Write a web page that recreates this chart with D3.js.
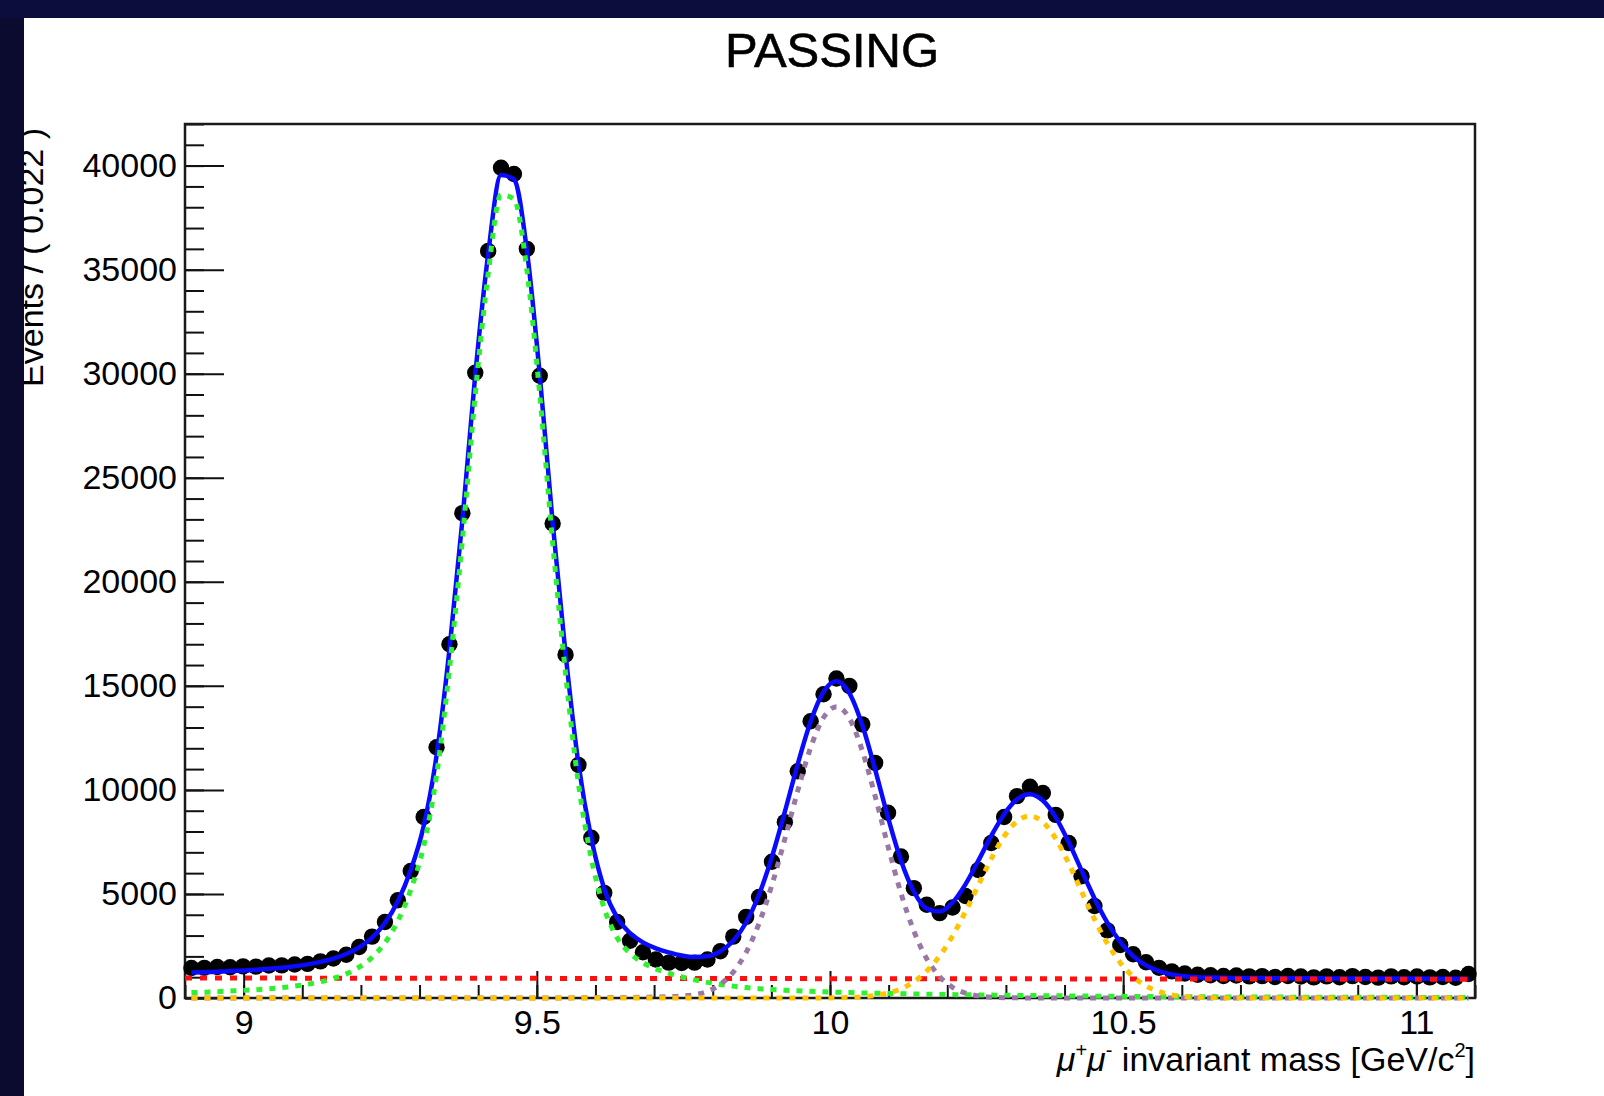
<!DOCTYPE html>
<html>
<head>
<meta charset="utf-8">
<script src="https://cdn.jsdelivr.net/npm/d3@7"></script>
<style>
  html, body { margin: 0; padding: 0; background: #0b0c36; }
  #panel { width: 1604px; height: 1096px; }
  text { white-space: pre; }
</style>
</head>
<body>
<div id="panel"></div>
<script>
// histogram binning (100 bins of 0.022 GeV)
const massRange = [8.9, 11.1];
const binWidth = 0.022;
const yRange = [0, 42000];
const xTickValues = [9, 9.5, 10, 10.5, 11];
const yTickValues = [0, 5000, 10000, 15000, 20000, 25000, 30000, 35000, 40000];

const dataCounts = [
  1440, 1450, 1490, 1480, 1520, 1510, 1560, 1570, 1610, 1640,
  1760, 1900, 2080, 2450, 2950, 3650, 4700, 6100, 8700, 12050,
  17000, 23300, 30050, 35900, 39900, 39600, 36000, 29900, 22800, 16500,
  11200, 7700, 5050, 3650, 2750, 2200, 1850, 1700, 1680, 1700,
  1850, 2250, 2950, 3900, 4850, 6550, 8450, 10900, 13300, 14600,
  15350, 15000, 13150, 11300, 8900, 6800, 5280, 4480, 4080, 4350,
  4900, 6150, 7450, 8700, 9700, 10150, 9850, 8800, 7450, 5850,
  4420, 3250, 2550, 2100, 1720, 1450, 1280, 1180, 1120, 1090,
  1060, 1080, 1040, 1050, 1010, 1060, 1030, 990, 1040, 1000,
  1050, 1010, 980, 1040, 1000, 1030, 990, 1010, 970, 1150
];

const fitTotal = [
  1220, 1239, 1264, 1293, 1323, 1357, 1401, 1456, 1525, 1615,
  1734, 1893, 2113, 2432, 2902, 3601, 4650, 6150, 8249, 11649,
  16748, 22947, 29947, 35746, 39546, 39345, 35945, 29946, 22846, 16548,
  11249, 7651, 5255, 3860, 3117, 2675, 2386, 2193, 2042, 1967,
  2006, 2240, 2750, 3629, 4972, 6782, 8952, 11242, 13287, 14713,
  15218, 14654, 13119, 10977, 8671, 6613, 5120, 4293, 4152, 4587,
  5462, 6599, 7790, 8833, 9546, 9791, 9493, 8682, 7494, 6133,
  4797, 3618, 2695, 2016, 1566, 1289, 1130, 1045, 1001, 980,
  969, 963, 959, 956, 954, 951, 948, 946, 943, 942,
  940, 938, 937, 935, 934, 932, 930, 929, 927, 926
];

const fitUps1S = [
  260, 280, 305, 335, 365, 400, 445, 500, 570, 660,
  780, 940, 1160, 1480, 1950, 2650, 3700, 5200, 7300, 10700,
  15800, 22000, 29000, 34800, 38600, 38400, 35000, 29000, 21900, 15600,
  10300, 6700, 4300, 2900, 2150, 1700, 1400, 1190, 1010, 870,
  750, 650, 570, 500, 450, 410, 375, 345, 320, 298,
  278, 260, 244, 230, 217, 205, 194, 183, 173, 164,
  155, 147, 139, 132, 125, 118, 112, 106, 100, 95,
  90, 85, 80, 76, 72, 68, 64, 61, 58, 55,
  52, 50, 48, 46, 44, 42, 40, 38, 36, 35,
  34, 33, 32, 31, 30, 29, 28, 27, 26, 25
];

const fitUps2S = [
  0, 0, 0, 0, 0, 0, 0, 0, 0, 0,
  0, 0, 0, 0, 0, 0, 0, 0, 0, 0,
  0, 0, 0, 0, 0, 0, 1, 2, 3, 5,
  7, 10, 14, 20, 27, 36, 48, 65, 95, 160,
  320, 655, 1245, 2195, 3588, 5439, 7645, 9964, 12034, 13480,
  14000, 13440, 11890, 9700, 7290, 5040, 3220, 1890, 1030, 514,
  237, 101, 40, 15, 6, 2, 1, 0, 0, 0,
  0, 0, 0, 0, 0, 0, 0, 0, 0, 0,
  0, 0, 0, 0, 0, 0, 0, 0, 0, 0,
  0, 0, 0, 0, 0, 0, 0, 0, 0, 0
];

const fitUps3S = [
  0, 0, 0, 0, 0, 0, 0, 0, 0, 0,
  0, 0, 0, 0, 0, 0, 0, 0, 0, 0,
  0, 0, 0, 0, 0, 0, 0, 0, 0, 0,
  0, 0, 0, 0, 0, 0, 0, 0, 0, 0,
  0, 0, 0, 0, 0, 0, 0, 1, 2, 4,
  10, 25, 56, 119, 236, 441, 780, 1294, 2024, 2984,
  4146, 5428, 6688, 7764, 8493, 8750, 8460, 7656, 6475, 5119,
  3789, 2616, 1698, 1024, 578, 306, 152, 70, 30, 12,
  5, 2, 0, 0, 0, 0, 0, 0, 0, 0,
  0, 0, 0, 0, 0, 0, 0, 0, 0, 0
];

// linear background, value at each end of the mass range
const bgLevel = [960, 900];

const W = 1604, H = 1096;
const frame = { left: 185, top: 124, right: 1475, bottom: 998 };
const font = '"Liberation Sans", Arial, Helvetica, sans-serif';

const binCentres = dataCounts.map((d, i) => massRange[0] + (i + 0.5) * binWidth);

const x = d3.scaleLinear().domain(massRange).range([frame.left, frame.right]);
const y = d3.scaleLinear().domain(yRange).range([frame.bottom, frame.top]);

const svg = d3.select('#panel')
  .append('svg')
  .attr('width', W)
  .attr('height', H)
  .attr('font-family', font);

svg.append('rect').attr('width', W).attr('height', H).attr('fill', '#0b0c36');
svg.append('rect')
  .attr('x', 24).attr('y', 18)
  .attr('width', W - 24).attr('height', H - 18)
  .attr('fill', '#ffffff');

// title
svg.append('text')
  .attr('x', 832).attr('y', 67)
  .attr('text-anchor', 'middle')
  .attr('font-size', 49)
  .attr('fill', '#000')
  .attr('stroke', '#000')
  .attr('stroke-width', 0.6)
  .text('PASSING');

// axes (ROOT style: ticks point into the frame)
const gAxes = svg.append('g');

gAxes.append('g')
  .attr('transform', `translate(${frame.left},0)`)
  .call(d3.axisLeft(y).tickValues(y.ticks(42)).tickSize(-19).tickFormat(''))
  .call(g => g.select('.domain').remove());

gAxes.append('g')
  .attr('transform', `translate(${frame.left},0)`)
  .call(d3.axisLeft(y).tickValues(yTickValues).tickSize(-39).tickPadding(8).tickFormat(d3.format('d')))
  .call(g => g.select('.domain').remove());

gAxes.append('g')
  .attr('transform', `translate(0,${frame.bottom})`)
  .call(d3.axisBottom(x).tickValues(x.ticks(22)).tickSize(-13).tickFormat(''))
  .call(g => g.select('.domain').remove());

gAxes.append('g')
  .attr('transform', `translate(0,${frame.bottom})`)
  .call(d3.axisBottom(x).tickValues(xTickValues).tickSize(-27).tickPadding(12).tickFormat(d3.format('')))
  .call(g => g.select('.domain').remove());

gAxes.selectAll('.tick line').attr('stroke', '#111').attr('stroke-width', 2);
gAxes.selectAll('.tick text')
  .attr('font-size', 34)
  .attr('font-family', font)
  .attr('fill', '#000');

gAxes.append('rect')
  .attr('x', frame.left).attr('y', frame.top)
  .attr('width', frame.right - frame.left)
  .attr('height', frame.bottom - frame.top)
  .attr('fill', 'none')
  .attr('stroke', '#1a1a1a')
  .attr('stroke-width', 2.5);

// data points
svg.append('g')
  .selectAll('circle')
  .data(dataCounts)
  .join('circle')
  .attr('cx', (d, i) => x(binCentres[i]))
  .attr('cy', d => y(d))
  .attr('r', 8.2)
  .attr('fill', '#000');

const curve = d3.line()
  .x((d, i) => x(binCentres[i]))
  .y(d => y(d))
  .curve(d3.curveMonotoneX);

svg.append('path')
  .attr('d', curve(fitTotal))
  .attr('fill', 'none')
  .attr('stroke', '#0a0aff')
  .attr('stroke-width', 4.5);

svg.append('path')
  .attr('d', d3.line().x(d => x(d[0])).y(d => y(d[1]))(massRange.map((m, i) => [m, bgLevel[i]])))
  .attr('fill', 'none')
  .attr('stroke', '#ff1010')
  .attr('stroke-width', 5)
  .attr('stroke-dasharray', '7 8');

const comps = [
  { values: fitUps1S, color: '#2ef02e' },
  { values: fitUps2S, color: '#9a78a6' },
  { values: fitUps3S, color: '#ffc400' }
];

comps.forEach(c => {
  svg.append('path')
    .attr('d', curve(c.values))
    .attr('fill', 'none')
    .attr('stroke', c.color)
    .attr('stroke-width', 5)
    .attr('stroke-dasharray', '6 7');
});

// axis titles
const xTitle = svg.append('text')
  .attr('x', frame.right)
  .attr('y', 1071)
  .attr('text-anchor', 'end')
  .attr('font-size', 34)
  .attr('fill', '#000');
xTitle.append('tspan').attr('font-style', 'italic').text('μ');
xTitle.append('tspan').attr('font-size', 20).attr('dy', -14).text('+');
xTitle.append('tspan').attr('font-style', 'italic').attr('dy', 14).text('μ');
xTitle.append('tspan').attr('font-size', 20).attr('dy', -14).text('-');
xTitle.append('tspan').attr('dy', 14).text(' invariant mass [GeV/c');
xTitle.append('tspan').attr('font-size', 20).attr('dy', -14).text('2');
xTitle.append('tspan').attr('dy', 14).text(']');

svg.append('text')
  .attr('transform', 'translate(43,128) rotate(-90)')
  .attr('text-anchor', 'end')
  .attr('font-size', 34)
  .attr('fill', '#000')
  .text('Events / ( 0.022 )');

// dark slide border drawn last, it hides the edge of the y title
svg.append('rect').attr('x', 0).attr('y', 0).attr('width', 24).attr('height', H).attr('fill', '#0a0b2e');
svg.append('rect').attr('x', 0).attr('y', 0).attr('width', W).attr('height', 18).attr('fill', '#0c0d3c');
</script>
</body>
</html>
